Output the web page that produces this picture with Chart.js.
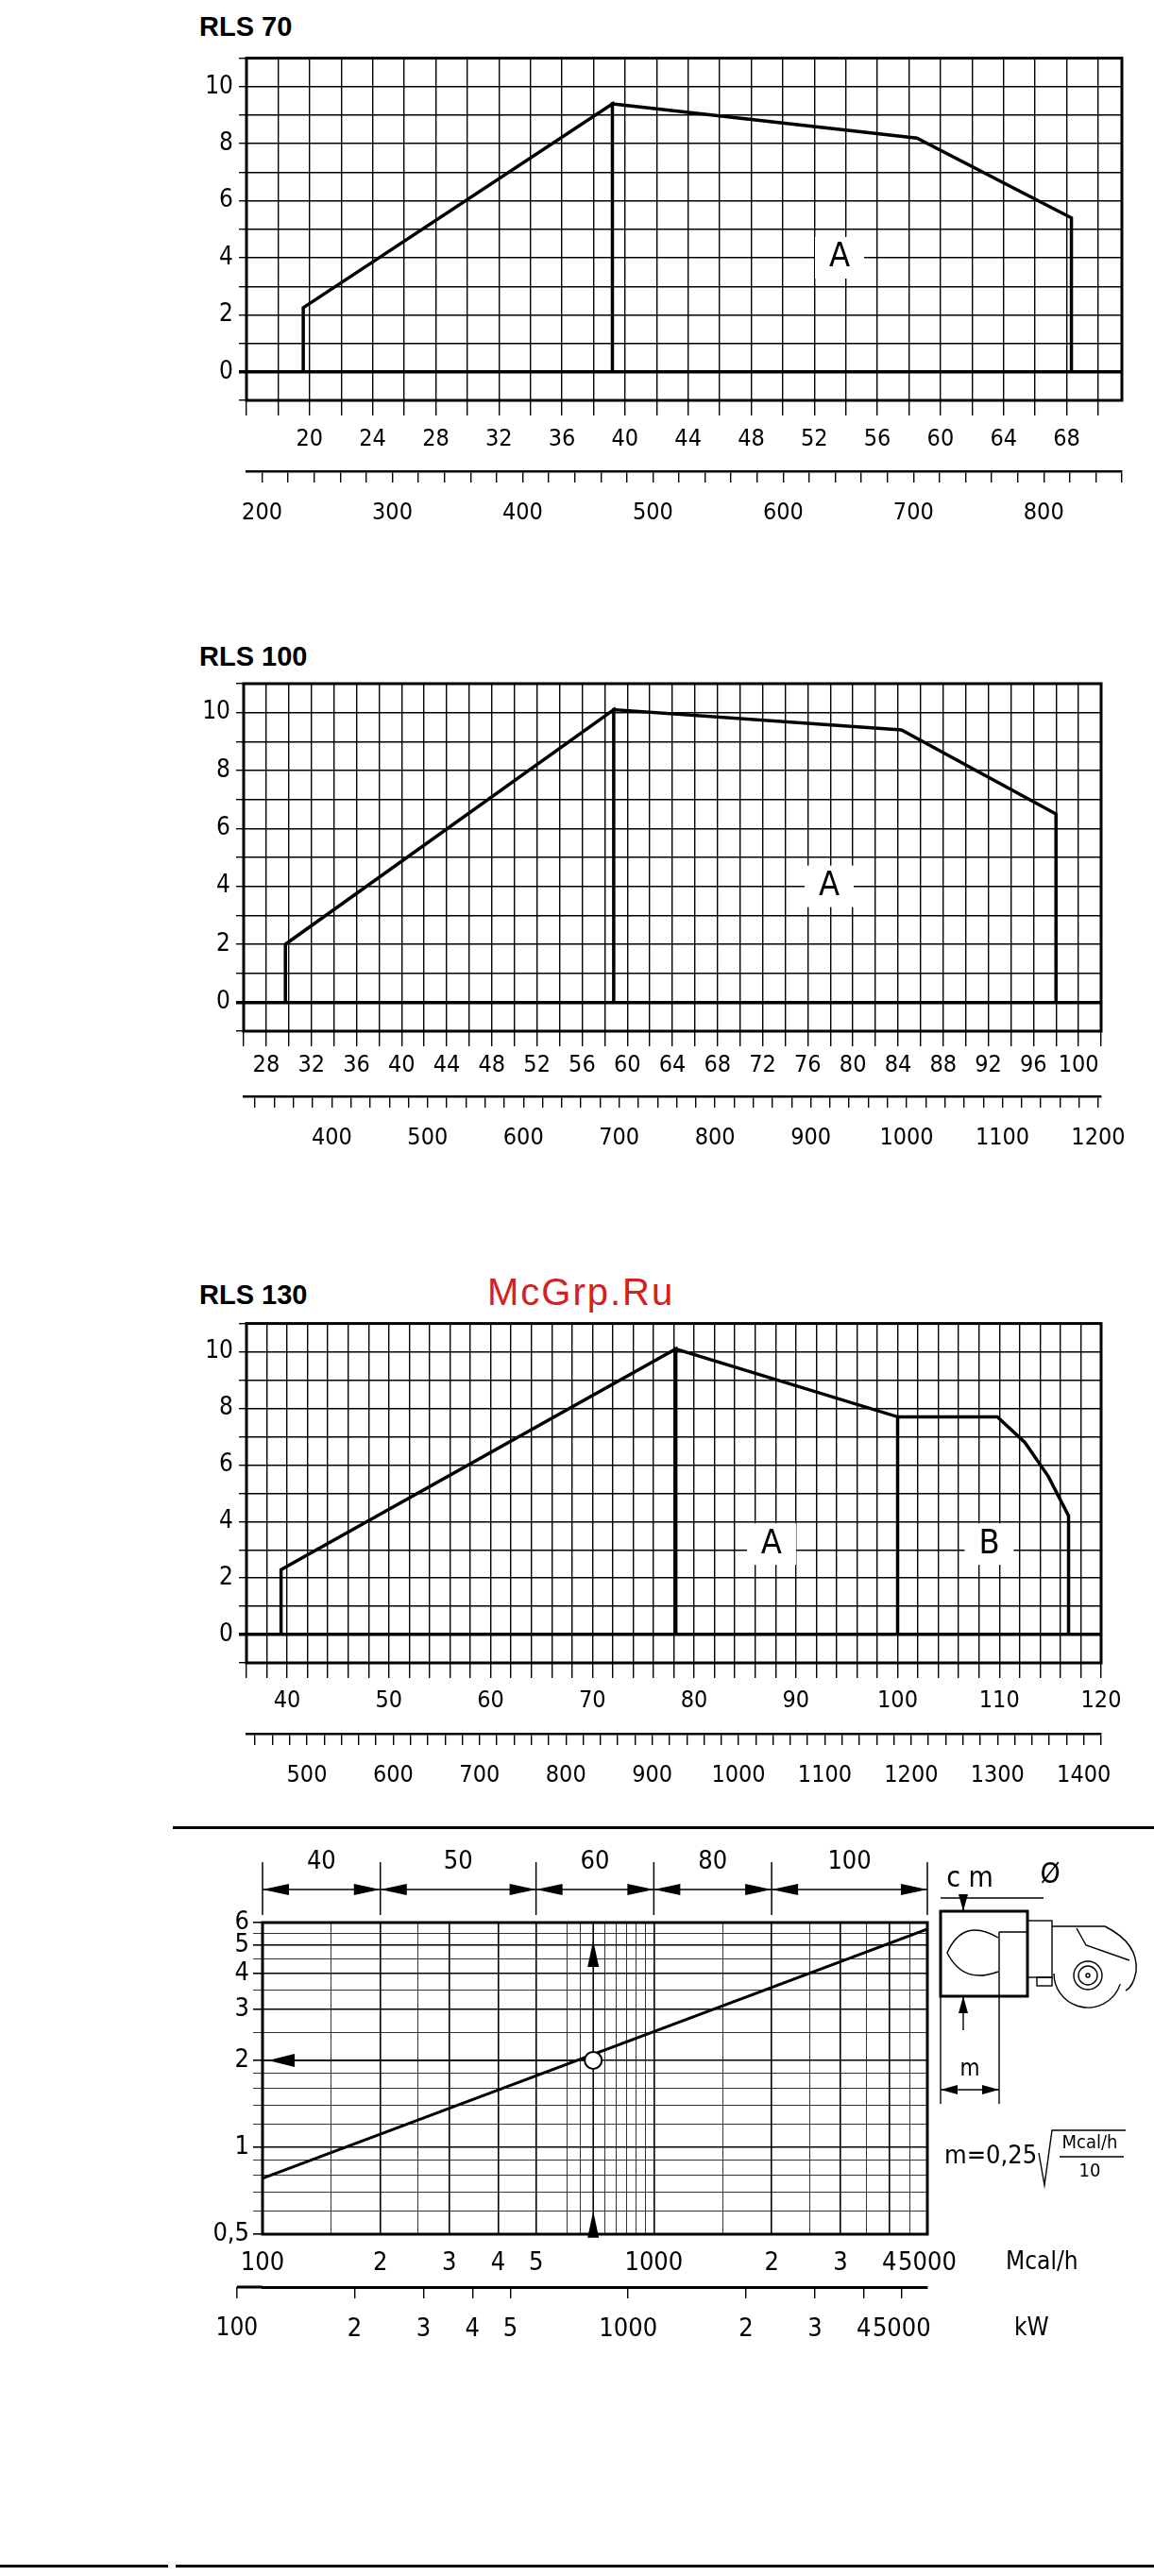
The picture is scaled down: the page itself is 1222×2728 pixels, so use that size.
<!DOCTYPE html>
<html>
<head>
<meta charset="utf-8">
<script src="https://cdn.jsdelivr.net/npm/chart.js@4.4.1/dist/chart.umd.min.js"></script>
<style>
  body { margin: 0; background: #fff; width: 1222px; height: 2728px; position: relative; overflow: hidden; }
  canvas { position: absolute; }
  .title { position: absolute; font: bold 29px "Liberation Sans", Arial, sans-serif; color: #000; }
  .rule { position: absolute; background: #000; }
  .wm { position: absolute; font: 40px "Liberation Sans", Arial, sans-serif; color: #d42020; letter-spacing: 2px; }
</style>
</head>
<body>
<div class="title" style="left:211px;top:12px">RLS 70</div>
<div class="title" style="left:211px;top:679px">RLS 100</div>
<div class="title" style="left:211px;top:1355px">RLS 130</div>
<div class="wm" style="left:516px;top:1346px">McGrp.Ru</div>
<div class="rule" style="left:183px;top:1934px;width:1039px;height:3px"></div>
<div class="rule" style="left:0;top:2716px;width:178px;height:3px"></div>
<div class="rule" style="left:186px;top:2716px;width:1036px;height:3px"></div>

<canvas id="c1" style="left:180px;top:40px"></canvas>
<canvas id="c2" style="left:180px;top:700px"></canvas>
<canvas id="c3" style="left:180px;top:1380px"></canvas>
<canvas id="c4" style="left:180px;top:1940px"></canvas>

<script>
// ---- data ----
// RLS 70 working field (upper axis value, pressure)
const rls70X = [19.6, 19.6, 39.2, 39.2, 39.2, 58.5, 68.3, 68.3];
const rls70Y = [0, 2.25, 9.4, 0, 9.4, 8.2, 5.4, 0];
const rls70Ticks = [20, 24, 28, 32, 36, 40, 44, 48, 52, 56, 60, 64, 68];
const rls70KwTicks = [200, 300, 400, 500, 600, 700, 800];

// RLS 100
const rls100X = [29.7, 29.7, 58.8, 58.8, 58.8, 84.3, 98, 98];
const rls100Y = [0, 2.0, 10.1, 0, 10.1, 9.4, 6.5, 0];
const rls100Ticks = [28, 32, 36, 40, 44, 48, 52, 56, 60, 64, 68, 72, 76, 80, 84, 88, 92, 96, 100];
const rls100KwTicks = [400, 500, 600, 700, 800, 900, 1000, 1100, 1200];

// RLS 130
const rls130X = [39.4, 39.4, 78.2, 78.2, 78.2, 100, 100, 100, 109.8, 112.5, 114.8, 116.8, 116.8];
const rls130Y = [0, 2.3, 10.1, 0, 10.1, 7.7, 0, 7.7, 7.7, 6.8, 5.6, 4.2, 0];
const rls130Ticks = [40, 50, 60, 70, 80, 90, 100, 110, 120];
const rls130KwTicks = [500, 600, 700, 800, 900, 1000, 1100, 1200, 1300, 1400];

const pressureTicks = [0, 2, 4, 6, 8, 10];

// flame length chart
const flameX = [100, 5000];
const flameY = [0.78, 5.7];
const flameMarkX = 700, flameMarkY = 2;
const diamBounds = [100, 200, 500, 1000, 2000, 5000];
const diamLabels = ["40", "50", "60", "80", "100"];
const mcalTicks = [100, 200, 300, 400, 500, 1000, 2000, 3000, 4000, 5000];
const mcalLabels = ["100", "2", "3", "4", "5", "1000", "2", "3", "4", "5000"];
const mcalGrid = [150, 250, 600, 650, 700, 750, 800, 850, 900, 950, 1500, 2500, 3500, 4500];
const kwTicks = [200, 300, 400, 500, 1000, 2000, 3000, 4000, 5000];
const kwLabels = ["2", "3", "4", "5", "1000", "2", "3", "4", "5000"];
const mTicks = [0.5, 1, 2, 3, 4, 5, 6];
const mLabels = ["0,5", "1", "2", "3", "4", "5", "6"];
const mGrid = [0.6, 0.7, 0.8, 0.9, 1.2, 1.4, 1.6, 1.8, 2.5, 3.5, 4.5, 5.5];

Chart.defaults.font.family = '"DejaVu Sans Condensed", "DejaVu Sans", sans-serif';
Chart.defaults.color = "#000";
Chart.defaults.animation = false;

const frame = {
  id: "frame",
  afterDraw(chart) {
    const a = chart.chartArea, ctx = chart.ctx;
    ctx.save();
    ctx.strokeStyle = "#000";
    ctx.lineWidth = 3;
    ctx.strokeRect(a.left, a.top, a.right - a.left, a.bottom - a.top);
    ctx.restore();
  }
};

function fieldLabels(items) {
  return {
    id: "fieldLabels",
    afterDatasetsDraw(chart) {
      const ctx = chart.ctx, sx = chart.scales.x, sy = chart.scales.y;
      ctx.save();
      ctx.font = '36px "DejaVu Sans Condensed", sans-serif';
      ctx.textAlign = "center";
      ctx.textBaseline = "middle";
      for (const it of items) {
        const px = sx.getPixelForValue(it[1]), py = sy.getPixelForValue(it[2]);
        ctx.fillStyle = "#fff";
        ctx.fillRect(px - 26, py - 22, 52, 44);
        ctx.fillStyle = "#000";
        ctx.fillText(it[0], px, py);
      }
      ctx.restore();
    }
  };
}

function rlsChart(id, w, h, pad, xs, ys, upper, kw, labels) {
  const el = document.getElementById(id);
  el.width = w; el.height = h;
  new Chart(el, {
    type: "scatter",
    data: { datasets: [{ data: xs.map((v, i) => ({ x: v, y: ys[i] })), showLine: true,
      borderColor: "#000", borderWidth: 3.5, pointRadius: 0, tension: 0 }] },
    options: {
      responsive: false,
      layout: { padding: { top: pad.top, right: pad.right, left: 0, bottom: 0 } },
      plugins: { legend: { display: false }, tooltip: { enabled: false } },
      scales: {
        x: {
          type: "linear", position: "bottom", min: upper.min, max: upper.max,
          afterBuildTicks(s) {
            const t = [];
            for (let v = upper.min; v <= upper.max + 0.001; v += upper.step) t.push({ value: v });
            s.ticks = t;
          },
          afterFit(s) { s.height = pad.xh; },
          grid: { color: "#000", lineWidth: 1.4, tickLength: 16 },
          border: { display: false },
          ticks: { autoSkip: false, maxRotation: 0, padding: pad.xp, font: { size: 25 },
            callback: v => upper.labels.includes(v) ? String(v) : "" }
        },
        x2: {
          type: "linear", position: "bottom", min: kw.min, max: kw.max,
          afterBuildTicks(s) {
            const t = [];
            for (let v = Math.ceil(kw.min / 20) * 20; v <= kw.max; v += 20) t.push({ value: v });
            s.ticks = t;
          },
          afterFit(s) { s.height = pad.kh; },
          grid: { drawOnChartArea: false, color: "#000", lineWidth: 1.4, tickLength: 12 },
          border: { display: true, color: "#000", width: 2.5 },
          ticks: { autoSkip: false, maxRotation: 0, padding: 17, font: { size: 25 },
            callback: v => kw.labels.includes(v) ? String(v) : "" }
        },
        y: {
          min: -1, max: 11,
          afterBuildTicks(s) {
            const t = [];
            for (let v = -1; v <= 11; v++) t.push({ value: v });
            s.ticks = t;
          },
          afterFit(s) { s.width = pad.yw; },
          grid: { color: "#000", lineWidth: c => c.tick && c.tick.value === 0 ? 3.5 : 1.4, tickLength: 8 },
          border: { display: false },
          ticks: { autoSkip: false, padding: 6, font: { size: 26 },
            callback: v => pressureTicks.includes(v) ? String(v) : "" }
        }
      }
    },
    plugins: [frame, fieldLabels(labels)]
  });
}

rlsChart("c1", 1040, 520, { top: 13, right: 32, xh: 75, xp: 10, kh: 61, yw: 81 },
  rls70X, rls70Y,
  { min: 16, max: 71.5, step: 2, labels: rls70Ticks },
  { min: 188, max: 860, labels: rls70KwTicks },
  [["A", 53.6, 4.0]]);

rlsChart("c2", 1040, 520, { top: 24, right: 54, xh: 69, xp: 5, kh: 59, yw: 78 },
  rls100X, rls100Y,
  { min: 26, max: 102, step: 2, labels: rls100Ticks },
  { min: 308, max: 1203, labels: rls100KwTicks },
  [["A", 77.9, 4.0]]);

rlsChart("c3", 1040, 540, { top: 20, right: 54, xh: 75, xp: 9, kh: 84, yw: 81 },
  rls130X, rls130Y,
  { min: 36, max: 120, step: 2, labels: rls130Ticks },
  { min: 430, max: 1420, labels: rls130KwTicks },
  [["A", 87.6, 3.2], ["B", 109, 3.2]]);

// ---- flame dimension chart ----
function arrowHead(ctx, x, y, dx, dy, len, wid) {
  ctx.beginPath();
  ctx.moveTo(x, y);
  ctx.lineTo(x - dx * len - dy * wid, y - dy * len + dx * wid);
  ctx.lineTo(x - dx * len + dy * wid, y - dy * len - dx * wid);
  ctx.closePath();
  ctx.fill();
}

const flameExtras = {
  id: "flameExtras",
  afterDraw(chart) {
    const ctx = chart.ctx, sx = chart.scales.x, sy = chart.scales.y, a = chart.chartArea;
    const ox = 180, oy = 1940; // page offset of this canvas
    ctx.save();
    ctx.fillStyle = "#000"; ctx.strokeStyle = "#000";
    // diameter bands above the plot
    const ay = 2001 - oy;
    ctx.lineWidth = 1.5;
    diamBounds.forEach(b => {
      const px = sx.getPixelForValue(b);
      ctx.beginPath(); ctx.moveTo(px, 1972 - oy); ctx.lineTo(px, 2028 - oy); ctx.stroke();
    });
    ctx.font = '27px "DejaVu Sans Condensed", sans-serif';
    ctx.textAlign = "center"; ctx.textBaseline = "middle";
    for (let i = 0; i < diamLabels.length; i++) {
      const p0 = sx.getPixelForValue(diamBounds[i]), p1 = sx.getPixelForValue(diamBounds[i + 1]);
      ctx.beginPath(); ctx.moveTo(p0, ay); ctx.lineTo(p1, ay); ctx.stroke();
      arrowHead(ctx, p0, ay, -1, 0, 28, 6);
      arrowHead(ctx, p1, ay, 1, 0, 28, 6);
      ctx.fillText(diamLabels[i], (p0 + p1) / 2, 1972 - oy);
    }
    // reading example
    const mx = sx.getPixelForValue(flameMarkX), my = sy.getPixelForValue(flameMarkY);
    ctx.lineWidth = 1.5;
    ctx.beginPath(); ctx.moveTo(mx, a.bottom); ctx.lineTo(mx, a.top); ctx.stroke();
    ctx.beginPath(); ctx.moveTo(a.left, my); ctx.lineTo(mx, my); ctx.stroke();
    arrowHead(ctx, mx, sy.getPixelForValue(5.2), 0, -1, 28, 6);
    arrowHead(ctx, mx, sy.getPixelForValue(0.6), 0, -1, 28, 6);
    arrowHead(ctx, a.left + 6, my, -1, 0, 28, 7);
    ctx.fillStyle = "#fff";
    ctx.beginPath(); ctx.arc(mx, my, 9, 0, Math.PI * 2); ctx.fill();
    ctx.lineWidth = 2; ctx.stroke();
    ctx.fillStyle = "#000";
    // unit names
    ctx.font = '26px "DejaVu Sans Condensed", sans-serif';
    ctx.textAlign = "left";
    ctx.fillText("Mcal/h", 1065 - ox, 2396 - oy);
    ctx.fillText("kW", 1074 - ox, 2466 - oy);
    const k = chart.scales.x2;
    ctx.textAlign = "center";
    ctx.fillText("100", k.getPixelForValue(100), 2466 - oy);
    ctx.lineWidth = 3;
    ctx.beginPath(); ctx.moveTo(k.getPixelForValue(100), k.top); ctx.lineTo(a.left, k.top); ctx.stroke();
    ctx.lineWidth = 1.4;
    ctx.beginPath(); ctx.moveTo(k.getPixelForValue(100), k.top); ctx.lineTo(k.getPixelForValue(100), k.top + 12); ctx.stroke();
    // burner sketch
    ctx.translate(-ox, -oy);
    ctx.lineWidth = 3;
    ctx.strokeRect(996, 2024, 92, 90);
    ctx.lineWidth = 1.4;
    ctx.beginPath(); ctx.moveTo(1058, 2046); ctx.lineTo(1088, 2046); ctx.moveTo(1058, 2046); ctx.lineTo(1058, 2114); ctx.stroke();
    ctx.beginPath();
    ctx.moveTo(1057, 2052); ctx.quadraticCurveTo(1020, 2030, 1003, 2068);
    ctx.quadraticCurveTo(1020, 2102, 1057, 2088); ctx.stroke();
    ctx.strokeRect(1088, 2034, 26, 60);
    ctx.strokeRect(1098, 2094, 16, 9);
    ctx.beginPath();
    ctx.moveTo(1114, 2040); ctx.lineTo(1170, 2040);
    ctx.quadraticCurveTo(1206, 2058, 1203, 2088);
    ctx.quadraticCurveTo(1200, 2104, 1192, 2108);
    ctx.stroke();
    ctx.beginPath(); ctx.moveTo(1140, 2042); ctx.lineTo(1150, 2060); ctx.lineTo(1196, 2076); ctx.stroke();
    ctx.beginPath(); ctx.arc(1152, 2090, 36, Math.PI * 0.1, Math.PI * 1.0); ctx.stroke();
    ctx.beginPath(); ctx.arc(1152, 2092, 15, 0, Math.PI * 2); ctx.stroke();
    ctx.beginPath(); ctx.arc(1152, 2092, 10, 0, Math.PI * 2); ctx.stroke();
    ctx.beginPath(); ctx.arc(1152, 2092, 2, 0, Math.PI * 2); ctx.stroke();
    ctx.beginPath(); ctx.moveTo(996, 2010); ctx.lineTo(1105, 2010); ctx.stroke();
    ctx.beginPath(); ctx.moveTo(1020, 2010); ctx.lineTo(1020, 2024); ctx.moveTo(1020, 2114); ctx.lineTo(1020, 2150); ctx.stroke();
    arrowHead(ctx, 1020, 2024, 0, 1, 18, 5);
    arrowHead(ctx, 1020, 2114, 0, -1, 18, 5);
    ctx.beginPath(); ctx.moveTo(996, 2114); ctx.lineTo(996, 2228); ctx.moveTo(1058, 2114); ctx.lineTo(1058, 2228); ctx.stroke();
    ctx.beginPath(); ctx.moveTo(996, 2213); ctx.lineTo(1058, 2213); ctx.stroke();
    arrowHead(ctx, 996, 2213, -1, 0, 18, 5);
    arrowHead(ctx, 1058, 2213, 1, 0, 18, 5);
    ctx.font = '24px "DejaVu Sans Condensed", sans-serif';
    ctx.textAlign = "center";
    ctx.fillText("m", 1027, 2192);
    ctx.font = '30px "DejaVu Sans Condensed", sans-serif';
    ctx.fillText("c m", 1027, 1990);
    ctx.fillText("Ø", 1112, 1986);
    // formula
    ctx.textAlign = "left";
    ctx.font = '27px "DejaVu Sans Condensed", sans-serif';
    ctx.fillText("m=0,25", 1000, 2284);
    ctx.beginPath(); ctx.moveTo(1100, 2280); ctx.lineTo(1106, 2314); ctx.lineTo(1114, 2256); ctx.lineTo(1192, 2256); ctx.stroke();
    ctx.font = '20px "DejaVu Sans Condensed", sans-serif';
    ctx.textAlign = "center";
    ctx.fillText("Mcal/h", 1154, 2270);
    ctx.beginPath(); ctx.moveTo(1122, 2284); ctx.lineTo(1190, 2284); ctx.stroke();
    ctx.fillText("10", 1154, 2300);
    ctx.restore();
  }
};

const el4 = document.getElementById("c4");
el4.width = 1040; el4.height = 560;
new Chart(el4, {
  type: "scatter",
  data: { datasets: [{ data: flameX.map((v, i) => ({ x: v, y: flameY[i] })), showLine: true,
    borderColor: "#000", borderWidth: 3, pointRadius: 0 }] },
  options: {
    responsive: false,
    layout: { padding: { top: 96, right: 238, left: 0, bottom: 0 } },
    plugins: { legend: { display: false }, tooltip: { enabled: false } },
    scales: {
      x: {
        type: "logarithmic", position: "bottom", min: 100, max: 5000,
        afterBuildTicks(s) {
          s.ticks = mcalTicks.concat(mcalGrid).sort((p, q) => p - q).map(v => ({ value: v }));
        },
        afterFit(s) { s.height = 56; },
        grid: { color: "#000", lineWidth: c => c.tick && mcalTicks.includes(c.tick.value) ? 1.6 : 0.8, tickLength: 0 },
        border: { display: false },
        ticks: { autoSkip: false, maxRotation: 0, padding: 15, font: { size: 27 },
          callback: v => { const i = mcalTicks.indexOf(v); return i >= 0 ? mcalLabels[i] : ""; } }
      },
      x2: {
        type: "logarithmic", position: "bottom", min: 116.3, max: 5815,
        afterBuildTicks(s) { s.ticks = kwTicks.map(v => ({ value: v })); },
        afterFit(s) { s.height = 78; },
        grid: { drawOnChartArea: false, color: "#000", lineWidth: 1.4, tickLength: 12 },
        border: { display: true, color: "#000", width: 3 },
        ticks: { autoSkip: false, maxRotation: 0, padding: 17, font: { size: 27 },
          callback: v => { const i = kwTicks.indexOf(v); return i >= 0 ? kwLabels[i] : ""; } }
      },
      y: {
        type: "logarithmic", min: 0.5, max: 6,
        afterBuildTicks(s) {
          s.ticks = mTicks.concat(mGrid).sort((p, q) => p - q).map(v => ({ value: v }));
        },
        afterFit(s) { s.width = 98; },
        grid: { color: "#000", lineWidth: c => c.tick && mTicks.includes(c.tick.value) ? 1.6 : 0.8, tickLength: 10 },
        border: { display: false },
        ticks: { autoSkip: false, padding: 4, font: { size: 27 },
          callback: v => { const i = mTicks.indexOf(v); return i >= 0 ? mLabels[i] : ""; } }
      }
    }
  },
  plugins: [frame, flameExtras]
});
</script>
</body>
</html>
